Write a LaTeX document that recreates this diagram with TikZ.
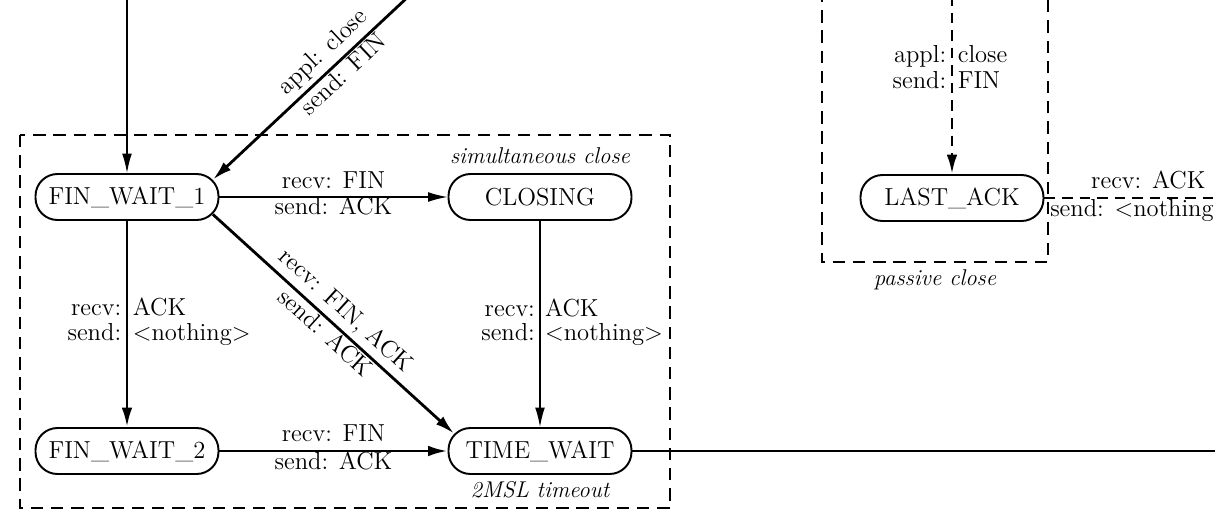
\documentclass[tikz,border=0pt]{standalone}
\usepackage{amsmath,amssymb,tikz}
\usetikzlibrary{arrows.meta}

\tikzset{
	tcpstate/.style={draw, line width=1.1pt, rounded corners=12.5pt, minimum width=3.66cm, minimum height=0.92cm, font=\fontsize{14}{16}\selectfont},
	lbl/.style={font=\fontsize{14}{16}\selectfont, inner sep=2.5pt, text height=0.7em, text depth=0.2em},
	slbl/.style={lbl, sloped, inner sep=3.5pt},
	note/.style={font=\fontsize{13}{15}\selectfont\itshape},
	thinarc/.style={line width=0.8pt, -{Latex[length=11pt,width=5.5pt]}},
	thickarc/.style={line width=1.6pt, -{Latex[length=11pt,width=6pt]}},
	dasharc/.style={line width=1.6pt, dash pattern=on 6pt off 4pt},
	region/.style={line width=1.1pt, dash pattern=on 7pt off 4.5pt}
}

\begin{document}
\begin{tikzpicture}[x=0.02cm,y=-0.02cm]
	\useasboundingbox (0,0) rectangle (1215,514);
	\clip (0,0) rectangle (1215,514);
	\draw[region] (20,135) rectangle (670,508);
	\draw[region] (822,-10) rectangle (1048,262);
	\node[tcpstate] (fw1) at (127,197) {FIN\_WAIT\_1};
	\node[tcpstate] (closing) at (540,197) {CLOSING};
	\node[tcpstate] (fw2) at (127,451) {FIN\_WAIT\_2};
	\node[tcpstate] (tw) at (540,451) {TIME\_WAIT};
	\node[tcpstate] (lastack) at (952,198) {LAST\_ACK};
	\node[note] (simclose) at (540,156) {simultaneous close};
	\node[note] (msl) at (540,490) {2MSL timeout};
	\node[note] (passclose) at (935,280) {passive close};
	\coordinate (intop) at (127,-5);
	\coordinate (closetop) at (410,-5);
	\coordinate (lasttop) at (952,-5);
	\coordinate (lastright) at (1230,198);
	\coordinate (twright) at (1230,451);
	\coordinate (fw1ne) at ([xshift=-3.7pt,yshift=-3.7pt]fw1.north east);
	\coordinate (fw1se) at ([xshift=-3.7pt,yshift=3.7pt]fw1.south east);
	\coordinate (twnw) at ([xshift=3.7pt,yshift=-3.7pt]tw.north west);
	\draw[thinarc] (intop) -- (fw1);
	\draw[thickarc] (closetop) -- (fw1ne)
		node[slbl, pos=0.38, above] {appl: close}
		node[slbl, pos=0.38, below] {send: FIN};
	\draw[thinarc] (fw1) -- (closing)
		node[lbl, midway, above] {recv: FIN}
		node[lbl, midway, below] {send: ACK};
	\draw[thickarc] (fw1) -- (fw2)
		node[lbl, pos=0.435, left] {recv:}
		node[lbl, pos=0.435, right] {ACK}
		node[lbl, pos=0.56, left] {send:}
		node[lbl, pos=0.56, right] {\textless nothing\textgreater};
	\draw[thickarc] (fw1se) -- (twnw)
		node[slbl, midway, above] {recv: FIN, ACK}
		node[slbl, midway, below] {send: ACK};
	\draw[thinarc] (closing) -- (tw)
		node[lbl, pos=0.44, left] {recv:}
		node[lbl, pos=0.44, right] {ACK}
		node[lbl, pos=0.56, left] {send:}
		node[lbl, pos=0.56, right] {\textless nothing\textgreater};
	\draw[thickarc] (fw2) -- (tw)
		node[lbl, midway, above] {recv: FIN}
		node[lbl, midway, below] {send: ACK};
	\draw[line width=1.6pt] (tw) -- (twright);
	\draw[dasharc, -{Latex[length=11pt,width=6pt]}] (lasttop) -- (lastack)
		node[lbl, pos=0.35, left] {appl:}
		node[lbl, pos=0.35, right] {close}
		node[lbl, pos=0.5, left] {send:}
		node[lbl, pos=0.5, right] {FIN};
	\draw[dasharc] (lastack) -- (lastright)
		node[lbl, pos=0.56, above] {recv: ACK}
		node[lbl, pos=0, below right] {send: \textless nothing\textgreater};
\end{tikzpicture}
\end{document}
